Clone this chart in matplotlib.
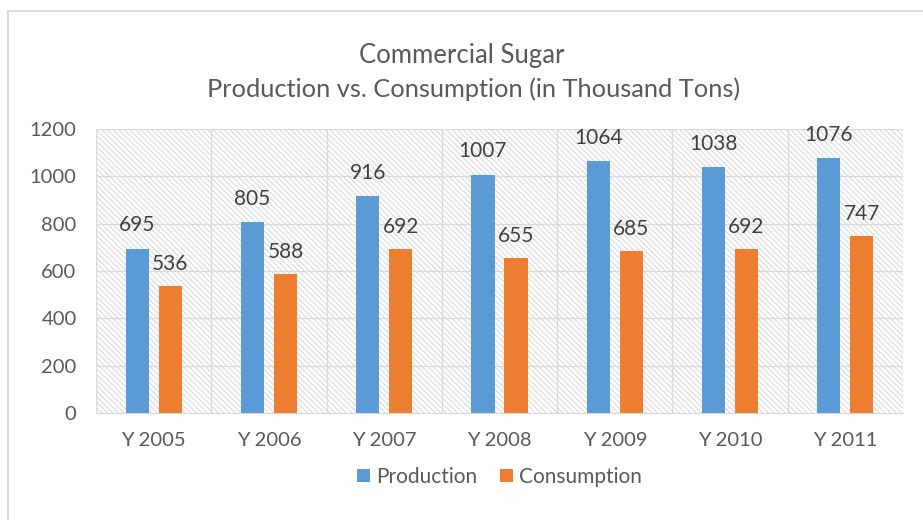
import numpy as np
import matplotlib
matplotlib.use("Agg")
import matplotlib.pyplot as plt
from matplotlib.lines import Line2D

# data
years = ["Y 2005", "Y 2006", "Y 2007", "Y 2008", "Y 2009", "Y 2010", "Y 2011"]
production = [695, 805, 916, 1007, 1064, 1038, 1076]
consumption = [536, 588, 692, 655, 685, 692, 747]

blue = "#5b9bd5"
orange = "#ed7d31"
txt = "#595959"
grid = "#d9d9d9"

plt.rcParams["font.family"] = ["Lato", "DejaVu Sans"]
plt.rcParams["hatch.color"] = "#d0d0d0"
plt.rcParams["hatch.linewidth"] = 0.6

fig = plt.figure(figsize=(9.23, 5.2), dpi=100)
ax = fig.add_axes([96 / 923, 1 - 413 / 520, (903 - 96) / 923, (413 - 129) / 520])

# hatched plot background
ax.patch.set_facecolor("white")
ax.patch.set_hatch("\\\\\\\\\\\\")
ax.patch.set_edgecolor("#d0d0d0")

x = np.arange(len(years))
w = 0.2
off = 0.143
ax.bar(x - off, production, w, color=blue, label="Production", zorder=3)
ax.bar(x + off, consumption, w, color=orange, label="Consumption", zorder=3)

for i in range(len(years)):
    ax.annotate(str(production[i]), (x[i] - off, production[i]), xytext=(0, 17),
                textcoords="offset points", ha="center", va="center",
                fontsize=15, color="#404040", zorder=4)
    ax.annotate(str(consumption[i]), (x[i] + off, consumption[i]), xytext=(0, 16),
                textcoords="offset points", ha="center", va="center",
                fontsize=15, color="#404040", zorder=4)

ax.set_xlim(-0.5, len(years) - 0.5)
ax.set_ylim(0, 1200)
ax.set_yticks(range(0, 1201, 200))
ax.set_xticks(x)
ax.set_xticklabels(years)

for b in np.arange(-0.5, len(years), 1.0):
    ax.axvline(b, color=grid, lw=1, zorder=1)
for yv in range(200, 1201, 200):
    ax.axhline(yv, color=grid, lw=1, zorder=1)

for s in ["top", "right", "left"]:
    ax.spines[s].set_visible(False)
ax.spines["bottom"].set_color(grid)
ax.tick_params(axis="both", length=0, labelsize=14.5, colors=txt)
ax.tick_params(axis="x", pad=14)
ax.tick_params(axis="y", pad=14)

fig.text(0.5, 1 - 55 / 520, "Commercial Sugar", ha="center", va="center",
         fontsize=18.5, color=txt)
fig.text(474 / 923, 1 - 89 / 520, "Production vs. Consumption (in Thousand Tons)",
         ha="center", va="center", fontsize=18.3, color=txt)

ax.legend(loc="center", bbox_to_anchor=(0.5, (413 - 477) / (413 - 129)),
          ncol=2, frameon=False, fontsize=15, labelcolor=txt,
          handlelength=0.6, handleheight=0.6, handletextpad=0.3, columnspacing=1.1)

# outer chart border
fig.add_artist(Line2D([8 / 923, 8 / 923], [0, 1 - 11 / 520], color=grid, lw=1.5,
                      transform=fig.transFigure))
fig.add_artist(Line2D([8 / 923, 1], [1 - 11 / 520, 1 - 11 / 520], color=grid, lw=1.5,
                      transform=fig.transFigure))

fig.savefig("out.png", dpi=100)
